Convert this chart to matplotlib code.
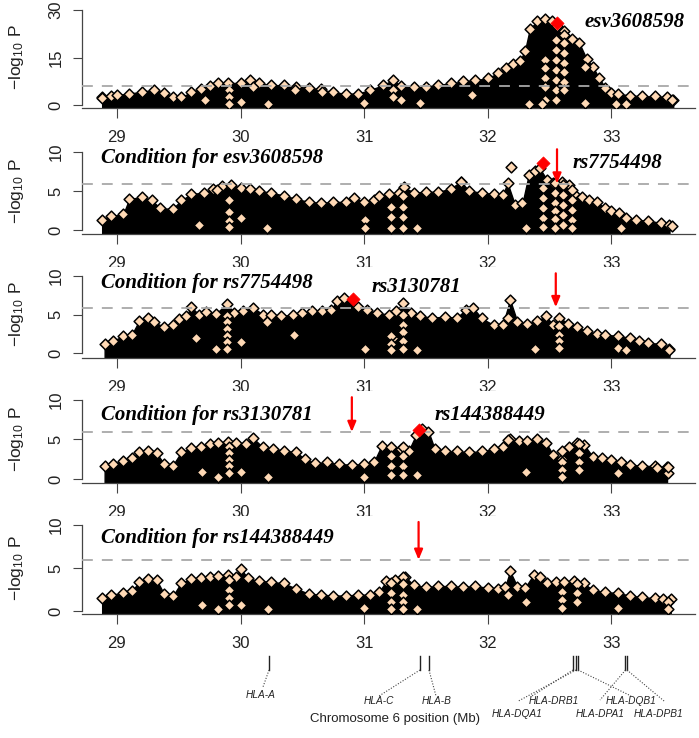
import matplotlib
matplotlib.use("Agg")
import matplotlib.pyplot as plt

plt.rcParams['font.family'] = ['Liberation Sans', 'DejaVu Sans']
plt.rcParams['mathtext.fontset'] = 'custom'
plt.rcParams['mathtext.rm'] = 'Liberation Sans'

# ---- data (position in Mb, -log10 P) ----
# top edge of the dense black band of SNPs, per panel
p1_pos = [28.88, 28.95, 29.0, 29.1, 29.2, 29.3, 29.38, 29.45, 29.52, 29.6, 29.68, 29.75, 29.82, 29.9, 30.0,
          30.08, 30.15, 30.25, 30.35, 30.45, 30.55, 30.65, 30.75, 30.85, 30.95, 31.05, 31.15, 31.23, 31.3, 31.4,
          31.5, 31.6, 31.7, 31.8, 31.9, 32.0, 32.08, 32.15, 32.2, 32.26, 32.3, 32.34, 32.4, 32.46, 32.52,
          32.56, 32.62, 32.68, 32.74, 32.8, 32.85, 32.9, 32.95, 33.0, 33.05, 33.15, 33.25, 33.35, 33.45, 33.5]
p1_top = [2.4, 3.0, 3.2, 3.6, 4.2, 4.8, 3.8, 2.6, 2.5, 4.0, 5.2, 6.0, 6.8, 6.9, 7.0,
          7.8, 6.8, 6.3, 6.2, 5.8, 5.4, 5.0, 4.0, 3.6, 3.6, 4.8, 6.2, 7.9, 6.0, 5.6,
          5.8, 6.4, 6.8, 7.5, 7.8, 8.5, 10.0, 11.8, 13.0, 14.0, 17.0, 24.0, 26.5, 27.2, 26.5,
          25.0, 23.5, 21.0, 19.5, 14.5, 12.0, 8.5, 5.5, 3.8, 3.6, 3.0, 2.8, 2.7, 2.6, 1.6]

p2_pos = [28.88, 28.95, 29.05, 29.1, 29.2, 29.28, 29.35, 29.45, 29.52, 29.6, 29.7, 29.78, 29.85, 29.92, 30.0,
          30.08, 30.15, 30.25, 30.35, 30.45, 30.55, 30.65, 30.75, 30.85, 30.92, 31.0, 31.08, 31.12, 31.2, 31.28,
          31.32, 31.4, 31.5, 31.6, 31.7, 31.78, 31.85, 31.95, 32.05, 32.12, 32.16, 32.22, 32.28, 32.33, 32.38,
          32.42, 32.48, 32.53, 32.6, 32.66, 32.7, 32.76, 32.82, 32.88, 32.95, 33.0, 33.06, 33.12, 33.2, 33.3,
          33.4, 33.47]
p2_top = [1.3, 1.8, 2.0, 4.0, 4.2, 3.8, 2.8, 2.7, 3.8, 4.6, 4.8, 5.2, 5.6, 5.8, 5.4,
          5.3, 5.0, 4.8, 4.4, 4.0, 3.6, 3.5, 3.6, 3.6, 4.1, 3.6, 3.9, 4.4, 4.6, 4.8,
          5.5, 4.8, 4.9, 4.9, 5.3, 6.2, 5.0, 4.8, 4.6, 4.5, 6.0, 3.2, 3.4, 7.0, 7.6,
          7.9, 6.4, 6.0, 6.2, 5.8, 4.6, 4.2, 3.8, 3.6, 2.8, 2.5, 2.2, 1.5, 1.3, 1.2,
          0.9, 0.7]

p3_pos = [28.9, 28.97, 29.05, 29.12, 29.18, 29.25, 29.3, 29.38, 29.45, 29.5, 29.56, 29.6, 29.66, 29.72, 29.8,
          29.89, 29.95, 30.02, 30.1, 30.18, 30.25, 30.33, 30.42, 30.5, 30.58, 30.66, 30.73, 30.78, 30.84, 30.95,
          31.02, 31.1, 31.2, 31.26, 31.31, 31.38, 31.45, 31.55, 31.65, 31.75, 31.82, 31.88, 31.95, 32.05, 32.12,
          32.18, 32.24, 32.32, 32.4, 32.47, 32.53, 32.58, 32.65, 32.72, 32.8, 32.88, 32.95, 33.05, 33.15, 33.22,
          33.3, 33.4, 33.47]
p3_top = [1.2, 1.6, 2.2, 2.4, 4.2, 4.5, 4.0, 3.4, 3.6, 4.4, 4.8, 6.0, 5.0, 5.3, 5.1,
          6.4, 5.2, 5.4, 5.9, 5.0, 4.9, 4.8, 5.0, 5.2, 5.4, 5.5, 5.6, 6.8, 7.2, 6.0,
          5.6, 5.2, 5.0, 5.4, 6.5, 5.2, 4.8, 4.6, 4.7, 4.6, 5.6, 5.9, 4.5, 3.6, 3.6,
          6.9, 4.0, 3.8, 4.2, 4.8, 3.6, 4.6, 3.8, 3.4, 2.8, 2.5, 2.4, 2.2, 2.0, 1.6,
          1.3, 1.2, 0.5]

p4_pos = [28.9, 28.97, 29.05, 29.12, 29.18, 29.25, 29.32, 29.38, 29.45, 29.52, 29.6, 29.68, 29.75, 29.82, 29.9,
          29.96, 30.04, 30.1, 30.18, 30.26, 30.35, 30.45, 30.52, 30.6, 30.7, 30.8, 30.9, 31.0, 31.08, 31.14,
          31.22, 31.3, 31.36, 31.42, 31.47, 31.52, 31.57, 31.65, 31.75, 31.85, 31.95, 32.05, 32.12, 32.18, 32.25,
          32.32, 32.4, 32.47, 32.53, 32.6, 32.66, 32.72, 32.78, 32.85, 32.92, 33.0, 33.08, 33.15, 33.25, 33.35,
          33.45]
p4_top = [1.6, 1.9, 2.3, 2.6, 3.4, 3.6, 3.3, 1.9, 1.7, 3.4, 3.9, 4.1, 4.4, 4.6, 4.7,
          4.6, 4.4, 5.2, 4.0, 3.8, 3.6, 3.4, 2.5, 2.0, 2.1, 1.9, 1.8, 1.9, 2.2, 4.2,
          4.0, 3.8, 3.6, 5.6, 6.3, 6.0, 3.8, 3.5, 3.5, 3.4, 3.5, 3.8, 4.0, 5.0, 4.8,
          4.8, 5.0, 4.6, 3.0, 2.5, 4.0, 4.6, 4.3, 2.8, 2.6, 2.4, 2.1, 1.8, 1.7, 1.6,
          1.5]

p5_pos = [28.88, 28.95, 29.05, 29.12, 29.18, 29.25, 29.32, 29.38, 29.45, 29.52, 29.6, 29.68, 29.75, 29.82, 29.9,
          29.96, 30.0, 30.06, 30.15, 30.25, 30.35, 30.45, 30.55, 30.65, 30.75, 30.85, 30.95, 31.05, 31.12, 31.18,
          31.25, 31.33, 31.4, 31.5, 31.6, 31.7, 31.8, 31.9, 32.0, 32.08, 32.14, 32.18, 32.24, 32.3, 32.37,
          32.42, 32.48, 32.55, 32.62, 32.7, 32.78, 32.85, 32.95, 33.05, 33.15, 33.25, 33.35, 33.42, 33.48]
p5_top = [1.5, 1.9, 2.1, 2.3, 3.4, 3.7, 3.6, 2.0, 1.7, 3.3, 3.7, 3.8, 4.0, 4.1, 4.2,
          4.0, 4.9, 3.8, 3.5, 3.4, 3.2, 2.6, 2.0, 1.9, 1.8, 1.8, 1.9, 1.9, 2.2, 3.5,
          3.6, 4.0, 3.0, 2.8, 2.9, 2.9, 2.8, 2.9, 2.7, 2.6, 2.8, 4.6, 2.8, 2.7, 4.2,
          4.0, 3.2, 3.4, 3.4, 3.5, 3.2, 2.4, 2.2, 2.1, 1.8, 1.6, 1.5, 1.4, 1.4]

# single SNPs that stand out (light diamonds) inside / on the band
p1_hx = [32.55, 32.55, 32.55, 32.55, 32.55, 32.55, 32.55, 32.62, 32.62, 32.62, 32.62, 32.62, 32.62, 32.62,
         32.46, 32.46, 32.46, 32.46, 32.46, 28.88, 29.71, 29.91, 29.91, 29.91, 30.0, 30.1, 30.22, 30.44, 30.66,
         31.0, 31.23, 31.23, 31.3, 31.45, 31.87, 32.33, 32.44, 32.79, 32.79, 33.04, 33.12, 33.49]
p1_hy = [20.5, 17.4, 14.2, 11.0, 7.9, 4.7, 1.6, 22.0, 19.6, 16.4, 13.3, 10.4, 7.3, 4.7,
         14.2, 11.6, 8.4, 5.8, 1.6, 2.2, 1.6, 4.7, 2.6, 0.3, 1.0, 5.6, 0.2, 4.7, 4.2,
         0.5, 4.7, 2.6, 1.6, 0.5, 3.2, 0.3, 0.3, 0.5, 12.0, 0.3, 0.3, 1.6]

p2_hx = [29.91, 29.91, 29.91, 29.91, 29.81, 30.0, 30.21, 29.66, 31.22, 31.22, 31.22, 31.31, 31.31, 31.31, 31.31,
         31.43, 31.01, 31.01, 32.45, 32.45, 32.45, 32.45, 32.45, 32.54, 32.54, 32.54, 32.54, 32.54, 32.54,
         32.61, 32.61, 32.61, 32.61, 32.61, 32.68, 32.68, 32.68, 32.68, 32.68, 32.31, 32.19, 33.08, 33.49, 31.78]
p2_hy = [3.8, 2.3, 1.1, 0.4, 5.1, 1.5, 0.3, 0.6, 3.0, 1.7, 0.3, 4.3, 3.0, 1.7, 0.3,
         0.3, 1.3, 0.3, 5.4, 4.1, 2.8, 1.5, 0.4, 6.0, 4.7, 3.4, 2.4, 1.4, 0.3,
         5.8, 4.5, 3.2, 1.9, 0.7, 5.1, 3.8, 2.6, 1.3, 0.3, 0.3, 8.1, 0.3, 0.5, 6.2]

p3_hx = [29.89, 29.89, 29.89, 29.89, 29.89, 29.89, 29.64, 29.8, 30.0, 30.21, 30.43, 31.01, 31.23,
         31.31, 31.31, 31.31, 31.31, 31.31, 31.22, 31.22, 31.22, 31.43, 32.16, 32.38,
         32.58, 32.58, 32.58, 32.58, 33.05, 33.12, 33.47]
p3_hy = [4.8, 4.0, 3.1, 2.2, 1.4, 0.5, 2.0, 0.5, 1.4, 4.0, 2.3, 0.5, 2.0,
         5.0, 3.7, 2.7, 1.5, 0.5, 2.2, 1.2, 0.4, 0.4, 4.5, 0.5,
         3.5, 2.4, 1.5, 0.7, 0.6, 0.4, 0.4]

p4_hx = [29.91, 29.91, 29.91, 29.91, 29.91, 29.69, 29.82, 30.0, 30.22, 31.22, 31.22, 31.22,
         31.31, 31.31, 31.31, 31.31, 31.43, 31.0, 32.16, 32.31, 32.6, 32.6, 32.6, 32.6,
         32.74, 32.74, 32.74, 32.74, 33.05, 33.37, 33.46, 33.46]
p4_hy = [4.1, 3.3, 2.4, 1.6, 0.8, 0.9, 0.3, 0.9, 0.3, 2.9, 1.6, 0.5,
         4.1, 2.9, 1.6, 0.5, 0.5, 0.3, 4.9, 0.9, 3.5, 2.2, 1.1, 0.3,
         4.4, 3.3, 2.2, 1.1, 0.7, 1.4, 0.7, 1.5]

p5_hx = [29.91, 29.91, 29.91, 29.91, 29.69, 29.82, 30.0, 30.22, 31.0, 31.22, 31.22, 31.22, 31.22,
         31.31, 31.31, 31.31, 31.31, 31.31, 31.43, 32.16, 32.31, 32.6, 32.6, 32.6,
         32.72, 32.72, 32.72, 33.05, 33.46, 33.46]
p5_hy = [3.6, 2.4, 1.5, 0.7, 0.7, 0.2, 0.7, 0.2, 0.4, 3.2, 2.1, 1.1, 0.2,
         4.0, 3.1, 1.9, 1.0, 0.2, 0.2, 1.9, 1.0, 2.2, 1.3, 0.3,
         3.1, 2.1, 1.1, 0.3, 1.1, 0.2]

# lead SNP of each round (red) and the previous lead (arrow)
lead_pos = [32.56, 32.45, 30.91, 31.44, None]
lead_p = [26.0, 8.6, 7.05, 6.15, None]
arrow_pos = [None, 32.56, 32.55, 30.9, 31.44]
lead_names = ['esv3608598', 'rs7754498', 'rs3130781', 'rs144388449', '']
cond_names = ['', 'Condition for esv3608598', 'Condition for rs7754498',
              'Condition for rs3130781', 'Condition for rs144388449']
threshold = 5.9

# HLA genes
gene_names = ['HLA-A', 'HLA-C', 'HLA-B', 'HLA-DRB1', 'HLA-DQA1', 'HLA-DQB1', 'HLA-DPA1', 'HLA-DPB1']
gene_pos = [30.23, 31.451, 31.524, 32.689, 32.714, 32.73, 33.114, 33.126]

xticks = [29, 30, 31, 32, 33]

# ---- layout (pixels of the 699x738 picture) ----
W, H = 699, 738
PPM = 123.6          # pixels per Mb
X29 = 117            # pixel x of 29 Mb
AX_L, AX_R = 82, 695
xlim = (29 + (AX_L - X29) / PPM, 29 + (AX_R - X29) / PPM)

# y pixel of 0, y pixel of top tick, top tick value, y pixel of the bottom line
geo = [(105, 10, 30, 108), (230, 152, 10, 234), (353, 276, 10, 358),
       (479, 400, 10, 483), (611, 525, 10, 614)]
yticks = [[0, 15, 30], [0, 5, 10], [0, 5, 10], [0, 5, 10], [0, 5, 10]]

lead_lab_xy = [(585, 22), (573, 163), (372, 287), (435, 415), None]
cond_lab_y = [None, 158, 283, 415, 538]

band = [(p1_pos, p1_top), (p2_pos, p2_top), (p3_pos, p3_top), (p4_pos, p4_top), (p5_pos, p5_top)]
hits = [(p1_hx, p1_hy), (p2_hx, p2_hy), (p3_hx, p3_hy), (p4_hx, p4_hy), (p5_hx, p5_hy)]

peach = '#ffd9b5'
axcol = '#454545'

fig = plt.figure(figsize=(W / 100, H / 100), dpi=100)

for i in range(5):
    y0, yt, tmax, line = geo[i]
    sc = (y0 - yt) / tmax
    top_px = yt - 9
    ax = fig.add_axes([AX_L / W, 1 - line / H, (AX_R - AX_L) / W, (line - top_px) / H])
    ymin = -(line - y0) / sc
    ax.set_xlim(*xlim)
    ax.set_ylim(ymin, tmax + (yt - top_px) / sc)

    pos, top = band[i]
    ax.fill_between(pos, ymin, top, color='black', lw=1.0, zorder=1)
    ax.scatter(pos, top, marker='D', s=30, facecolor=peach, edgecolor='black', linewidth=1.1, zorder=2)
    hx, hy = hits[i]
    ax.scatter(hx, hy, marker='D', s=30, facecolor=peach, edgecolor='black', linewidth=1.1, zorder=3)

    ax.axhline(threshold, color='#a8a8a8', lw=1.3, dashes=(6, 5), zorder=4)

    if lead_pos[i] is not None:
        ax.scatter([lead_pos[i]], [lead_p[i]], marker='D', s=45, color='red', edgecolor='red',
                   linewidth=0.5, zorder=6)
    if arrow_pos[i] is not None:
        ax.annotate('', xy=(arrow_pos[i], threshold + 0.05), xytext=(arrow_pos[i], tmax + 0.35),
                    arrowprops=dict(arrowstyle='-|>,head_length=0.6,head_width=0.25', color='red',
                                    lw=1.6, shrinkA=0, shrinkB=0),
                    annotation_clip=False, zorder=7)

    for s in ['top', 'right']:
        ax.spines[s].set_visible(False)
    ax.spines['left'].set_bounds(0, tmax)
    for s in ['left', 'bottom']:
        ax.spines[s].set_color(axcol)
        ax.spines[s].set_linewidth(0.9)

    ax.set_xticks(xticks)
    ax.set_xticklabels([str(t) for t in xticks])
    ax.set_yticks(yticks[i])
    ax.tick_params(axis='x', length=7, width=0.8, pad=9, labelsize=12, color=axcol, labelcolor='#222222')
    ax.tick_params(axis='y', length=6.5, width=0.8, pad=7, labelsize=12, color=axcol,
                   labelcolor='#222222', labelrotation=90)
    for lab in ax.get_yticklabels():
        lab.set_va('center')

    fig.text(16 / W, 1 - ((y0 + yt) / 2) / H, r'$\mathrm{-log_{10}\ P}$', rotation=90,
             ha='center', va='center', fontsize=12.5, color='#222222')

    if lead_lab_xy[i] is not None:
        lx, ly = lead_lab_xy[i]
        fig.text(lx / W, 1 - ly / H, lead_names[i], family='Liberation Serif', weight='bold',
                 style='italic', fontsize=15, ha='left', va='center')
    if cond_lab_y[i] is not None:
        fig.text(101 / W, 1 - cond_lab_y[i] / H, cond_names[i], family='Liberation Serif',
                 weight='bold', style='italic', fontsize=15, ha='left', va='center')

# ---- gene track ----
lab_x = [30.165, 31.12, 31.589, 32.536, 32.236, 33.159, 32.908, 33.385]
lab_y = [695, 701, 701, 701, 714, 701, 714, 714]
end_x = [30.181, 31.12, 31.581, 32.345, 32.248, 33.159, 32.908, 33.426]
end_y = [687, 696, 696, 697, 701, 696, 700, 701]

gx = fig.add_axes([AX_L / W, 0, (AX_R - AX_L) / W, (H - 620) / H])
gx.set_xlim(*xlim)
gx.set_ylim(H, 620)
gx.axis('off')
for k in range(len(gene_names)):
    gx.plot([gene_pos[k], gene_pos[k]], [656, 670], color='#222222', lw=1.0)
    gx.plot([gene_pos[k], end_x[k]], [670, end_y[k]], color='#444444', lw=0.8, ls=(0, (1, 1.5)))
    gx.text(lab_x[k], lab_y[k], gene_names[k], style='italic', fontsize=7.3, ha='center', va='center',
            color='#222222')

fig.text(395 / W, 1 - 719 / H, 'Chromosome 6 position (Mb)', fontsize=9.5, ha='center', va='center',
         color='#222222')

fig.savefig('out.png', dpi=100)
